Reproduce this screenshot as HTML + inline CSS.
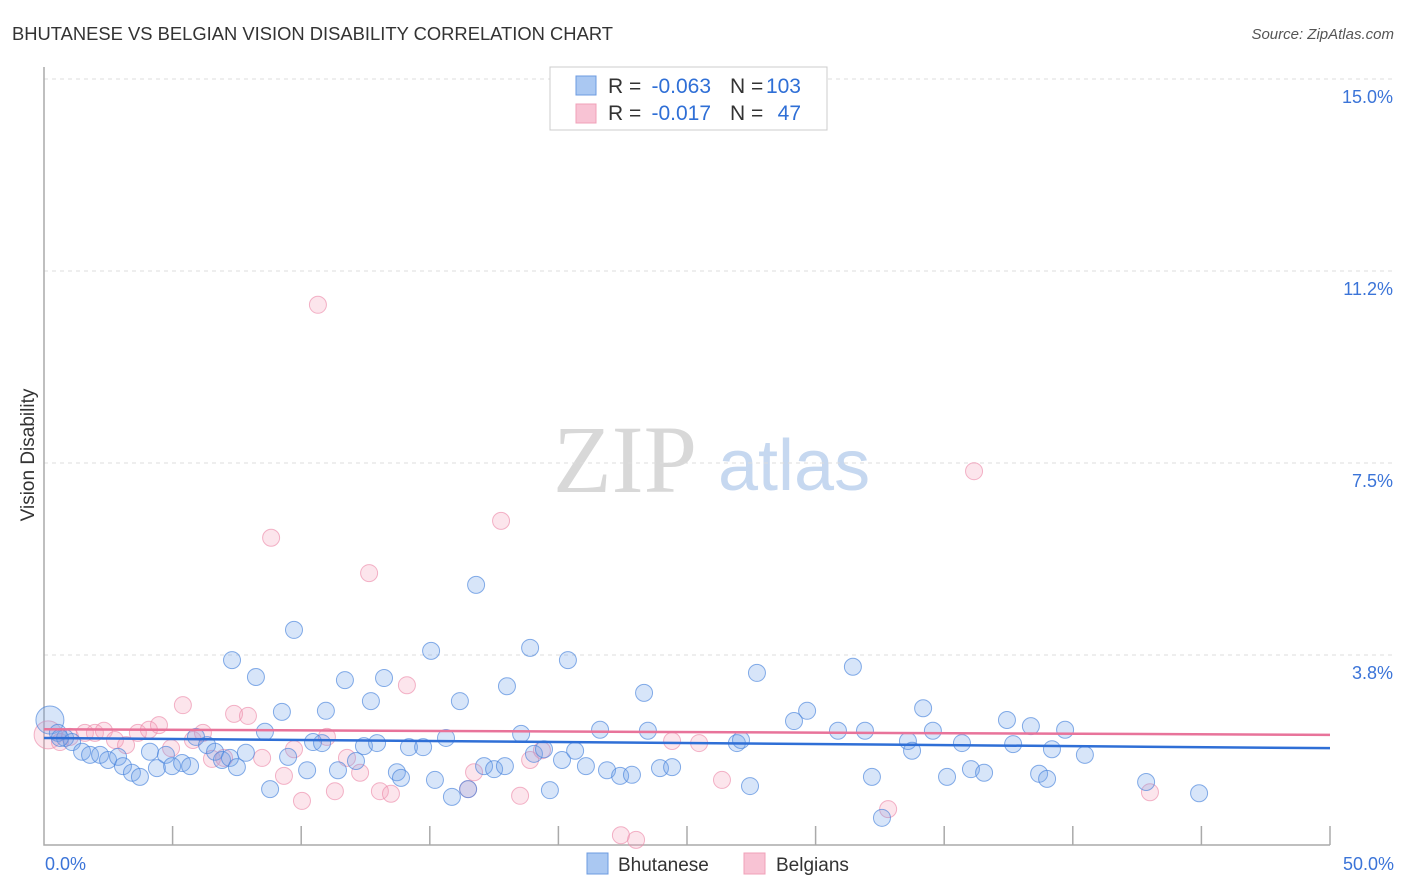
<!DOCTYPE html>
<html><head><meta charset="utf-8"><style>
body{margin:0;background:#fff;font-family:"Liberation Sans",sans-serif;}
svg{display:block}
</style></head><body>
<svg id="chart" width="1406" height="892">
<text x="12" y="40" font-size="18" fill="#333" textLength="601" lengthAdjust="spacingAndGlyphs">BHUTANESE VS BELGIAN VISION DISABILITY CORRELATION CHART</text>
<text x="1394" y="39" font-size="15" fill="#555" font-style="italic" text-anchor="end">Source: ZipAtlas.com</text>
<g><text x="553" y="492" font-family="Liberation Serif,serif" font-size="96" fill="#d8d8d8">ZIP</text><text x="718" y="490" font-size="72" fill="#c6d8f0">atlas</text></g>
<text transform="translate(34,455) rotate(-90)" font-size="19" fill="#333" text-anchor="middle">Vision Disability</text>
<g id="grid"></g><g id="axes"></g><g id="pts"></g><g id="trend"></g>
<g>
<rect x="550" y="67" width="277" height="63" fill="#fff" stroke="#ccc"/>
<rect x="576" y="76" width="20" height="19" fill="#aac8f2" stroke="#6c9be0"/>
<rect x="576" y="104" width="20" height="19" fill="#f8c3d4" stroke="#f0a0b8"/>
<g font-size="21" fill="#333">
<text x="608" y="93">R =</text><text x="711" y="93" text-anchor="end" fill="#2f6fd6">-0.063</text>
<text x="730" y="93">N =</text><text x="801" y="93" text-anchor="end" fill="#2f6fd6">103</text>
<text x="608" y="120">R =</text><text x="711" y="120" text-anchor="end" fill="#2f6fd6">-0.017</text>
<text x="730" y="120">N =</text><text x="801" y="120" text-anchor="end" fill="#2f6fd6">47</text>
</g>
</g>
<g>
<rect x="587" y="853" width="21" height="21" fill="#aac8f2" stroke="#6c9be0"/>
<text x="618" y="871" font-size="19" fill="#333">Bhutanese</text>
<rect x="744" y="853" width="21" height="21" fill="#f8c3d4" stroke="#f0a0b8"/>
<text x="776" y="871" font-size="19" fill="#333">Belgians</text>
</g>
</svg>
<script>
const yTicks=[3.8,7.5,11.2,15.0];
const yTickVals=[3.75,7.5,11.25,15];
const xLabels=["0.0%","50.0%"];
const blueX=[0.23,0.54,0.82,1.09,1.48,1.79,2.18,2.49,2.88,3.07,3.42,3.73,4.12,4.39,4.74,4.98,5.37,5.68,5.91,6.34,6.65,6.92,7.23,7.50,7.31,7.85,8.24,8.59,8.79,9.25,9.49,9.72,10.23,10.46,10.81,10.96,11.43,11.70,12.13,12.44,12.71,12.95,13.22,13.72,13.88,14.19,14.74,15.05,15.20,15.63,15.86,16.17,16.49,16.80,17.11,17.50,17.92,18.00,18.55,18.90,19.05,19.44,19.67,20.14,20.37,20.65,21.07,21.62,21.89,22.40,22.86,23.33,23.48,23.95,24.42,26.94,27.10,27.45,27.72,29.16,29.67,30.87,31.45,31.92,32.19,32.58,33.59,33.75,34.18,34.56,35.11,35.69,36.04,36.55,37.44,37.68,38.37,38.69,39.00,39.19,39.70,40.47,42.85,44.91,0.62];
const blueY=[2.48,2.23,2.13,2.05,1.86,1.80,1.80,1.70,1.76,1.58,1.45,1.37,1.86,1.54,1.80,1.58,1.64,1.58,2.15,1.99,1.86,1.70,1.74,1.56,3.65,1.84,3.32,2.25,1.13,2.64,1.76,4.24,1.50,2.05,2.03,2.66,1.50,3.26,1.68,1.97,2.85,2.03,3.30,1.46,1.35,1.95,1.95,3.83,1.31,2.13,0.98,2.85,1.13,5.12,1.58,1.52,1.58,3.14,2.21,3.89,1.82,1.91,1.11,1.70,3.65,1.88,1.58,2.29,1.50,1.39,1.41,3.01,2.27,1.54,1.56,2.03,2.09,1.19,3.40,2.46,2.66,2.27,3.52,2.27,1.37,0.57,2.07,1.88,2.71,2.27,1.37,2.03,1.52,1.45,2.48,2.01,2.36,1.43,1.33,1.91,2.29,1.80,1.27,1.05,2.13];
const pinkX=[0.16,0.62,1.01,1.59,1.98,2.33,2.76,3.19,3.65,4.08,4.47,4.94,5.40,5.79,6.18,6.53,7.00,7.39,7.93,8.48,8.83,9.33,9.72,10.03,10.65,11.00,11.31,11.78,12.29,12.64,13.06,13.49,14.11,16.49,16.72,17.77,18.51,18.90,19.36,22.43,23.02,24.42,25.47,26.36,32.82,36.16,43.00];
const pinkY=[2.19,2.05,2.15,2.23,2.23,2.27,2.09,1.99,2.23,2.29,2.38,1.93,2.77,2.09,2.23,1.72,1.74,2.60,2.56,1.74,6.04,1.39,1.91,0.90,10.59,2.15,1.09,1.74,1.45,5.35,1.09,1.04,3.16,1.13,1.46,6.37,1.00,1.70,1.89,0.23,0.14,2.07,2.03,1.31,0.74,7.34,1.07];
const blueTrend=[2.13,1.93];
const pinkTrend=[2.30,2.19];
const NS="http://www.w3.org/2000/svg";
const X=v=>44+v/50*1286, Y=v=>847-v*51.2;
function mk(p,tag,a){const e=document.createElementNS(NS,tag);for(const k in a)e.setAttribute(k,a[k]);document.getElementById(p).appendChild(e);return e;}
yTickVals.forEach((v,i)=>{
 const g=mk('grid','line',{x1:44,x2:1394,y1:Y(v),y2:Y(v),stroke:'#ddd','stroke-dasharray':'4,4'});
 
 
 const t=mk('grid','text',{x:1393,y:Y(v)+24,'font-size':18,fill:'#3b74d8','text-anchor':'end'});
 t.textContent=yTicks[i].toFixed(1)+'%';
 
 
});
const ax=mk('axes','path',{d:'M44,67V845H1330',fill:'none',stroke:'#aaa','stroke-width':1.5});


for(let i=1;i<=10;i++){const l=mk('axes','line',{x1:X(i*5),x2:X(i*5),y1:826,y2:845,stroke:'#aaa','stroke-width':1.5});
 
 }
[[0,'start',45],[50,'end',1394]].forEach((d,i)=>{const t=mk('axes','text',{x:d[2],y:870,'font-size':18,fill:'#3b74d8','text-anchor':d[1]});t.textContent=xLabels[i];
 
 });
function pts(xs,ys,fill,stroke,name){xs.forEach((x,i)=>{const r=(i===0)?14:8.5;
 const c=mk('pts','circle',{cx:X(x),cy:Y(ys[i]),r:r,fill:fill,stroke:stroke,'stroke-width':1});
 
 });}
pts(pinkX,pinkY,'rgba(244,160,188,0.28)','rgba(236,140,170,0.65)','belgians-point');
pts(blueX,blueY,'rgba(110,160,232,0.28)','rgba(70,130,220,0.65)','bhutanese-point');
const bl=mk('trend','line',{x1:X(0),x2:X(50),y1:Y(blueTrend[0]),y2:Y(blueTrend[1]),stroke:'#2f6fd6','stroke-width':2.5});


const pl=mk('trend','line',{x1:X(0),x2:X(50),y1:Y(pinkTrend[0]),y2:Y(pinkTrend[1]),stroke:'#e8739a','stroke-width':2.5});


</script>
</body></html>
